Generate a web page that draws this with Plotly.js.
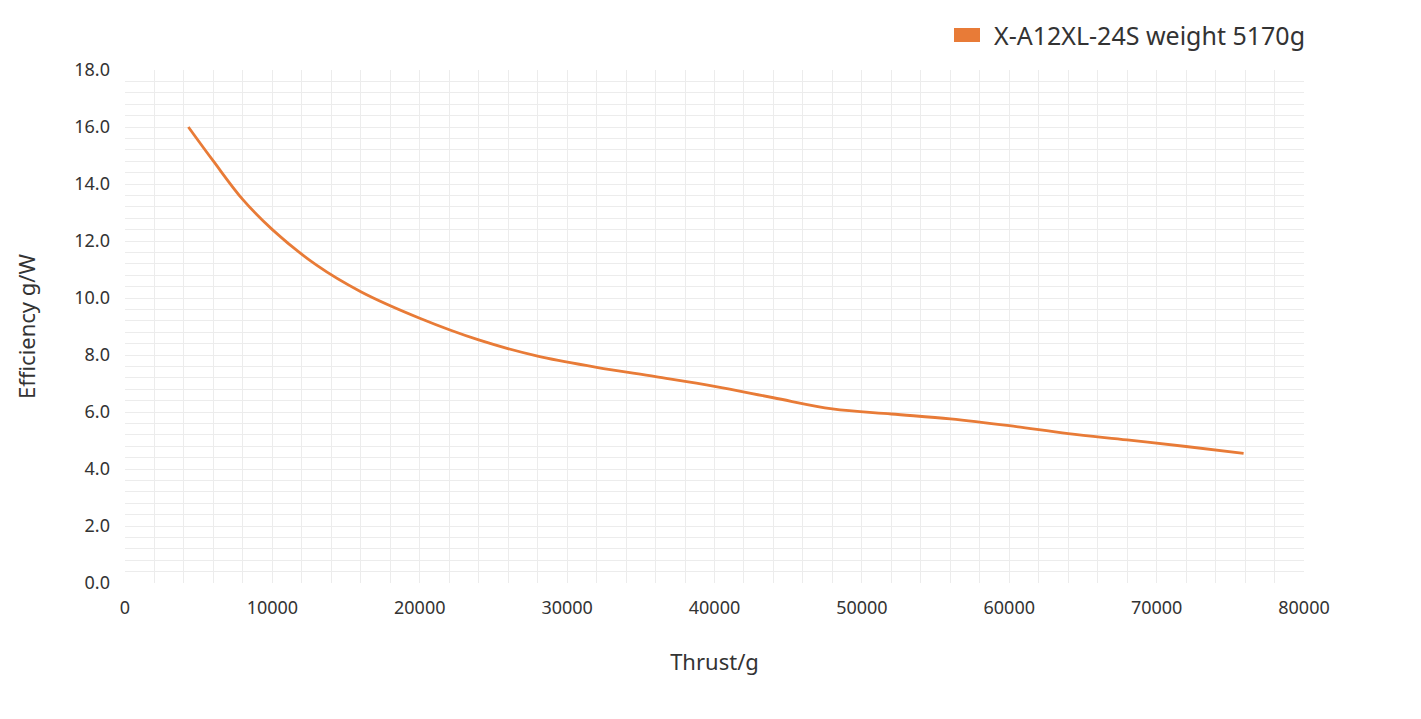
<!DOCTYPE html>
<html>
<head>
<meta charset="utf-8">
<script src="https://cdn.plot.ly/plotly-3.0.1.min.js"></script>
<style>html,body{margin:0;padding:0;background:#fff;}#chart{width:1421px;height:719px;}</style>
</head>
<body>
<div id="chart"></div>
<script>
const seriesName = "X-A12XL-24S weight 5170g";
const thrust = [4300, 6000, 8000, 10000, 13000, 16000, 20000, 24000, 28000, 32000, 36000, 40000, 44000, 48000, 52000, 56000, 60000, 64000, 68000, 72000, 75900];
const efficiency = [16.0, 14.8, 13.45, 12.4, 11.15, 10.22, 9.29, 8.53, 7.96, 7.57, 7.24, 6.90, 6.50, 6.11, 5.93, 5.76, 5.52, 5.24, 5.02, 4.79, 4.55];
const xTitle = "Thrust/g";
const yTitle = "Efficiency g/W";

const lineColor = "#E87B37";
const fontFam = "Noto Sans, Inter, sans-serif";
const gridColor = "#ececec";

const trace = {
  x: thrust, y: efficiency, type: "scatter", mode: "lines",
  name: seriesName, showlegend: false,
  line: {color: lineColor, width: 2.8, shape: "spline", smoothing: 1},
  hoverinfo: "x+y"
};

const layout = {
  width: 1421, height: 719,
  margin: {l: 125, r: 117, t: 70, b: 136},
  paper_bgcolor: "#fff", plot_bgcolor: "#fff",
  font: {family: fontFam, color: "#333"},
  xaxis: {
    range: [0, 80000], dtick: 10000, tickformat: "d",
    showgrid: true, gridcolor: gridColor, gridwidth: 1,
    minor: {dtick: 2000, showgrid: true, gridcolor: gridColor, gridwidth: 1},
    zeroline: false, showline: false, ticks: "",
    tickfont: {size: 18, color: "#333"}, ticklabelstandoff: 12,
    title: {text: xTitle, font: {size: 22, color: "#333"}, standoff: 36}
  },
  yaxis: {
    range: [0, 18], dtick: 2, tickformat: ".1f",
    showgrid: true, gridcolor: gridColor, gridwidth: 1,
    minor: {dtick: 0.4, showgrid: true, gridcolor: gridColor, gridwidth: 1},
    zeroline: false, showline: false, ticks: "",
    tickfont: {size: 18, color: "#333"}, ticklabelstandoff: 14,
    title: {text: yTitle, font: {size: 22, color: "#333"}, standoff: 32}
  },
  shapes: [
    {type: "rect", xref: "paper", yref: "paper",
     x0: (954 - 125) / 1179, x1: (980 - 125) / 1179,
     y0: (583 - 42) / 513, y1: (583 - 28) / 513,
     fillcolor: lineColor, line: {width: 0}}
  ],
  annotations: [
    {xref: "paper", yref: "paper", x: (992 - 125) / 1179, y: (583 - 35) / 513,
     xanchor: "left", yanchor: "middle", showarrow: false,
     text: seriesName, font: {size: 25, color: "#333", family: fontFam}}
  ]
};

Plotly.newPlot("chart", [trace], layout, {displayModeBar: false, staticPlot: true});
</script>
</body>
</html>
